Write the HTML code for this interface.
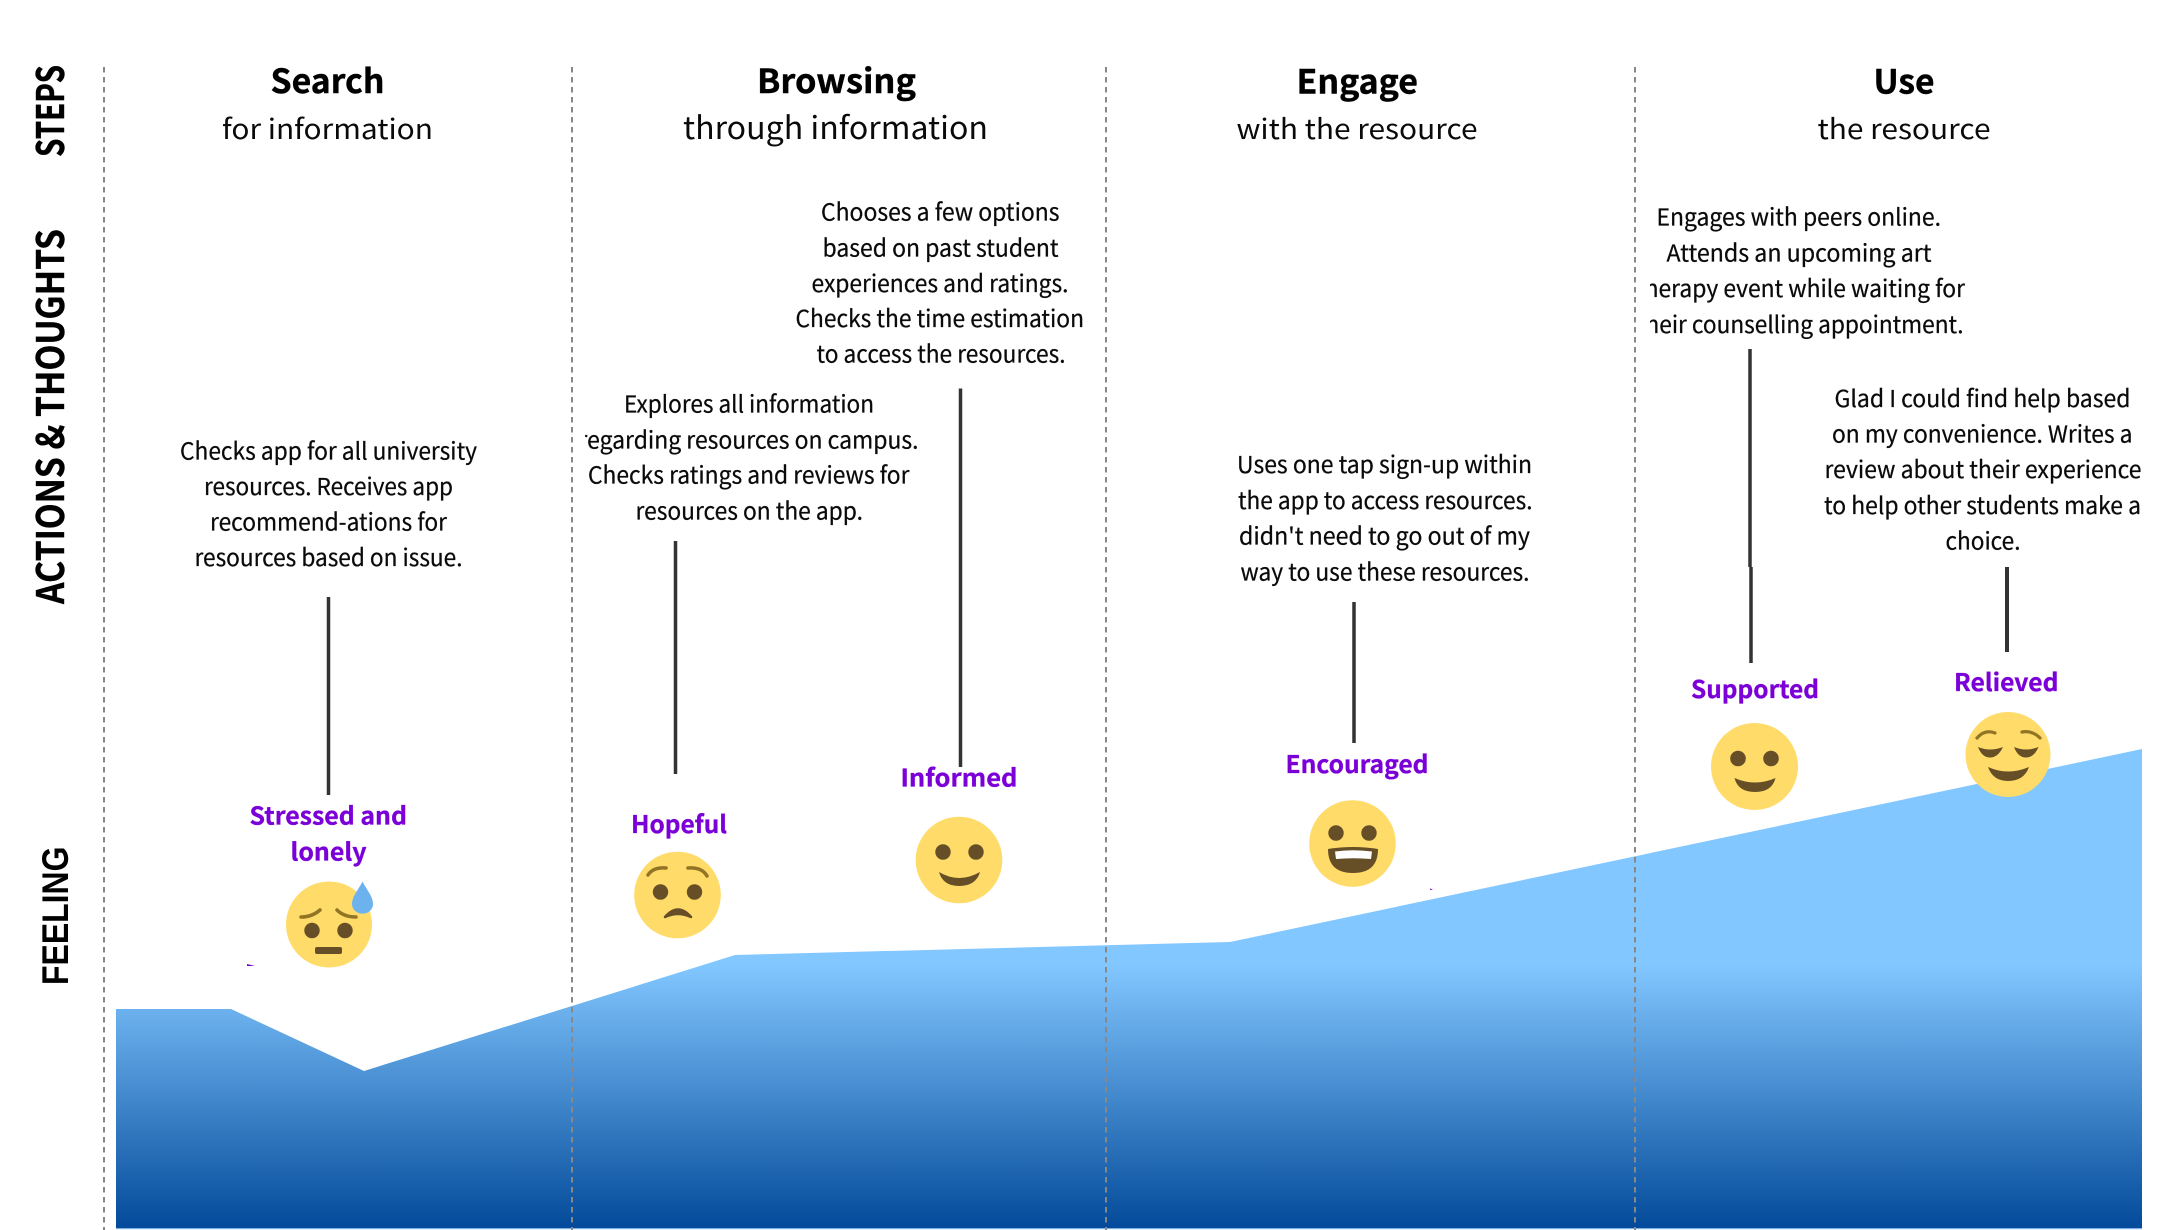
<!DOCTYPE html>
<html lang="en">
<head>
<meta charset="utf-8">
<title>Journey map</title>
<style>
html,body{margin:0;padding:0;background:#fff;width:2170px;height:1230px;overflow:hidden}
svg{display:block}
.b{font-family:"Noto Sans CJK JP","Liberation Sans",sans-serif;font-size:23.5px;fill:#0a0a0a;stroke:#0a0a0a;stroke-width:.25px}
.h{font-family:"Noto Sans CJK JP","Liberation Sans",sans-serif;font-weight:700;font-size:33px;fill:#000;stroke:#000;stroke-width:.4px}
.s{font-family:"Noto Sans CJK JP","Liberation Sans",sans-serif;font-size:28px;fill:#0a0a0a}
.p{font-family:"Noto Sans CJK JP","Liberation Sans",sans-serif;font-weight:700;font-size:24.5px;fill:#7b00d8;stroke:#7b00d8;stroke-width:.3px}
.v{font-family:"Noto Sans CJK JP","Liberation Sans",sans-serif;font-weight:700;font-size:38px;fill:#000;stroke:#000;stroke-width:.4px}
.f{font-family:"Liberation Sans",sans-serif;font-weight:700;font-size:37px;fill:#000}
</style>
</head>
<body>
<svg width="2170" height="1230" viewBox="0 0 2170 1230" xmlns="http://www.w3.org/2000/svg">
<defs>
<linearGradient id="g" gradientUnits="userSpaceOnUse" x1="0" y1="965" x2="0" y2="1228">
<stop offset="0" stop-color="#82c7ff"/>
<stop offset="1" stop-color="#034a9a"/>
</linearGradient>
<clipPath id="c1"><rect x="585" y="420" width="400" height="40"/></clipPath>
<clipPath id="c2"><rect x="1650" y="270" width="400" height="75"/></clipPath>
</defs>
<rect width="2170" height="1230" fill="#fff"/>

<!-- area -->
<rect x="116" y="1228" width="2026" height="1.2" fill="#7fb2e6"/>
<polygon points="116,1009 231,1009 364,1071 735,955 1230,942 2142,749 2142,1228 116,1228" fill="url(#g)"/>
<polygon points="247,964 255,966 247,966" fill="#7b00d8"/>
<polygon points="1430,888.5 1433,889.5 1430,890" fill="#7b00d8"/>

<!-- dashed separators -->
<g stroke="#888" stroke-width="2" stroke-dasharray="5.5 4.5" stroke-dashoffset="6" fill="none">
<line x1="104" y1="63" x2="104" y2="1230"/>
<line x1="572" y1="63" x2="572" y2="1230"/>
<line x1="1106" y1="63" x2="1106" y2="1230"/>
<line x1="1635" y1="63" x2="1635" y2="1230"/>
</g>

<!-- vertical labels -->
<text class="v" transform="translate(64,157) rotate(-90)" textLength="92" lengthAdjust="spacingAndGlyphs">STEPS</text>
<text class="v" transform="translate(64,604) rotate(-90)" textLength="375" lengthAdjust="spacingAndGlyphs">ACTIONS &amp; THOUGHTS</text>
<text class="f" transform="translate(68,985) rotate(-90)" textLength="138.5" lengthAdjust="spacingAndGlyphs">FEELING</text>

<!-- headers -->
<text class="h" x="270.5" y="93" textLength="114" lengthAdjust="spacingAndGlyphs">Search</text>
<text class="s" x="222" y="139" textLength="211" lengthAdjust="spacingAndGlyphs">for information</text>
<text class="h" x="757" y="93" textLength="159" lengthAdjust="spacingAndGlyphs">Browsing</text>
<text class="s" x="683" y="139" textLength="305" lengthAdjust="spacingAndGlyphs" style="font-size:31px">through information</text>
<text class="h" x="1296.5" y="93.5" textLength="121.5" lengthAdjust="spacingAndGlyphs">Engage</text>
<text class="s" x="1236.5" y="139" textLength="241" lengthAdjust="spacingAndGlyphs">with the resource</text>
<text class="h" x="1873.5" y="93.5" textLength="61" lengthAdjust="spacingAndGlyphs">Use</text>
<text class="s" x="1817.5" y="139" textLength="173" lengthAdjust="spacingAndGlyphs">the resource</text>

<!-- body -->
<g>
<text class="b" x="180" y="459.5" textLength="297" lengthAdjust="spacingAndGlyphs">Checks app for all university</text>
<text class="b" x="204" y="495" textLength="249" lengthAdjust="spacingAndGlyphs">resources. Receives app</text>
<text class="b" x="210" y="530.5" textLength="237" lengthAdjust="spacingAndGlyphs">recommend-ations for</text>
<text class="b" x="194.5" y="566" textLength="268" lengthAdjust="spacingAndGlyphs">resources based on issue.</text>

<text class="b" x="821" y="220.3" textLength="238.5" lengthAdjust="spacingAndGlyphs">Chooses a few options</text>
<text class="b" x="822.5" y="256.3" textLength="236" lengthAdjust="spacingAndGlyphs">based on past student</text>
<text class="b" x="811.5" y="291.8" textLength="257" lengthAdjust="spacingAndGlyphs">experiences and ratings.</text>
<text class="b" x="795.5" y="326.8" textLength="288.5" lengthAdjust="spacingAndGlyphs">Checks the time estimation</text>
<text class="b" x="816.5" y="362.3" textLength="249" lengthAdjust="spacingAndGlyphs">to access the resources.</text>

<text class="b" x="624" y="412.7" textLength="250" lengthAdjust="spacingAndGlyphs">Explores all information</text>
<g clip-path="url(#c1)"><text class="b" x="578.5" y="448.7" textLength="340" lengthAdjust="spacingAndGlyphs">regarding resources on campus.</text></g>
<text class="b" x="588" y="483.7" textLength="321.5" lengthAdjust="spacingAndGlyphs">Checks ratings and reviews for</text>
<text class="b" x="635.5" y="519.7" textLength="227.5" lengthAdjust="spacingAndGlyphs">resources on the app.</text>

<text class="b" x="1237" y="473" textLength="295" lengthAdjust="spacingAndGlyphs">Uses one tap sign-up within</text>
<text class="b" x="1238" y="509" textLength="294.5" lengthAdjust="spacingAndGlyphs">the app to access resources.</text>
<text class="b" x="1239" y="544.5" textLength="291" lengthAdjust="spacingAndGlyphs">didn't need to go out of my</text>
<text class="b" x="1240.5" y="580.3" textLength="289" lengthAdjust="spacingAndGlyphs">way to use these resources.</text>

<text class="b" x="1656.5" y="225.5" textLength="284.5" lengthAdjust="spacingAndGlyphs">Engages with peers online.</text>
<text class="b" x="1666.5" y="261.5" textLength="265" lengthAdjust="spacingAndGlyphs">Attends an upcoming art</text>
<g clip-path="url(#c2)">
<text class="b" x="1636" y="297" textLength="329" lengthAdjust="spacingAndGlyphs">therapy event while waiting for</text>
<text class="b" x="1637" y="333" textLength="326.5" lengthAdjust="spacingAndGlyphs">their counselling appointment.</text>
</g>

<text class="b" x="1834.5" y="407" textLength="296" lengthAdjust="spacingAndGlyphs">Glad I could find help based</text>
<text class="b" x="1832" y="442.5" textLength="300.5" lengthAdjust="spacingAndGlyphs">on my convenience. Writes a</text>
<text class="b" x="1824.5" y="478" textLength="317" lengthAdjust="spacingAndGlyphs">review about their experience</text>
<text class="b" x="1824" y="514" textLength="317" lengthAdjust="spacingAndGlyphs">to help other students make a</text>
<text class="b" x="1945.5" y="549.5" textLength="75" lengthAdjust="spacingAndGlyphs">choice.</text>
</g>

<!-- connectors -->
<g stroke="#333" stroke-width="3.5" fill="none">
<line x1="328.5" y1="597" x2="328.5" y2="795"/>
<line x1="675.5" y1="541" x2="675.5" y2="774"/>
<line x1="960.5" y1="388.5" x2="960.5" y2="767"/>
<line x1="1354" y1="602" x2="1354" y2="743"/>
<line x1="1750" y1="349" x2="1750" y2="567"/>
<line x1="1751" y1="567" x2="1751" y2="663"/>
<line x1="2007" y1="567" x2="2007" y2="652" stroke-width="4"/>
</g>

<!-- feelings -->
<text class="p" x="249.5" y="824.5" textLength="157.5" lengthAdjust="spacingAndGlyphs">Stressed and</text>
<text class="p" x="290.5" y="860.5" textLength="76" lengthAdjust="spacingAndGlyphs">lonely</text>
<text class="p" x="631" y="833" textLength="96" lengthAdjust="spacingAndGlyphs">Hopeful</text>
<text class="p" x="900.5" y="786.5" textLength="117" lengthAdjust="spacingAndGlyphs">Informed</text>
<text class="p" x="1285.5" y="773" textLength="143" lengthAdjust="spacingAndGlyphs">Encouraged</text>
<text class="p" x="1691" y="698" textLength="128" lengthAdjust="spacingAndGlyphs">Supported</text>
<text class="p" x="1954" y="691" textLength="104.5" lengthAdjust="spacingAndGlyphs">Relieved</text>

<!-- stressed -->
<circle cx="329" cy="924.5" r="43" fill="#ffdb69"/>
<path d="M301,917 Q312,917 320,910 M337,910 Q344,917 356,917" stroke="#917524" stroke-width="3.5" fill="none" stroke-linecap="round"/>
<ellipse cx="312" cy="930.5" rx="7.7" ry="7.7" fill="#664e27"/>
<ellipse cx="345" cy="930.5" rx="7.7" ry="7.7" fill="#664e27"/>
<rect x="315" y="947" width="27" height="7" rx="2" fill="#664e27"/>
<path d="M362.5,881.5 C366,889 373,896 373,904 A10.3,9.5 0 0 1 352,904 C352,896 359,889 362.5,881.5Z" fill="#6cb3ee"/>

<!-- hopeful -->
<circle cx="677.5" cy="895" r="43.3" fill="#ffdb69"/>
<path d="M648,875 Q653,867 666,868 M688,868 Q702,867 707,876" stroke="#917524" stroke-width="3.5" fill="none" stroke-linecap="round"/>
<ellipse cx="660.5" cy="892" rx="7.7" ry="7.7" fill="#664e27"/>
<ellipse cx="694.5" cy="892" rx="7.7" ry="7.7" fill="#664e27"/>
<path d="M665,917 Q678,902 691,917 Q678,911 665,917Z" fill="#664e27" stroke="#664e27" stroke-width="2.5" stroke-linejoin="round"/>

<!-- informed -->
<circle cx="959" cy="860" r="43.3" fill="#ffdb69"/>
<ellipse cx="943" cy="852" rx="7.7" ry="7.7" fill="#664e27"/>
<ellipse cx="976" cy="852" rx="7.7" ry="7.7" fill="#664e27"/>
<path d="M939,872 Q959,884 980,872 Q976,886 959,886 Q943,886 939,872Z" fill="#664e27"/>

<!-- encouraged -->
<circle cx="1352.5" cy="843.5" r="43.3" fill="#ffdb69"/>
<ellipse cx="1336" cy="833" rx="7.7" ry="7.7" fill="#664e27"/>
<ellipse cx="1369" cy="833" rx="7.7" ry="7.7" fill="#664e27"/>
<path d="M1328,849 Q1353,845 1378,849 Q1378,873 1353,873 Q1328,873 1328,849Z" fill="#664e27"/>
<path d="M1335,851.5 Q1353,849 1372,851.5 L1371,859 Q1353,857.5 1336,859Z" fill="#fff"/>

<!-- supported -->
<circle cx="1754.5" cy="766.5" r="43.5" fill="#ffdb69"/>
<circle cx="1738" cy="758.5" r="7.8" fill="#664e27"/>
<circle cx="1771" cy="758.5" r="7.8" fill="#664e27"/>
<path d="M1734.5,778 Q1755,787 1775.5,778 Q1772,792 1755,792 Q1738,792 1734.5,778Z" fill="#664e27"/>

<!-- relieved -->
<circle cx="2008" cy="754.5" r="42.5" fill="#ffdb69"/>
<path d="M1977,738 Q1985,729 1995,733 M2022,732 Q2032,730 2040,738" stroke="#917524" stroke-width="3.2" fill="none" stroke-linecap="round"/>
<path d="M1978,747 Q1990,752 2003,747 Q1998,757.5 1990,757.5 Q1982,757.5 1978,747Z" fill="#664e27"/>
<path d="M2014,747 Q2026,752 2038.5,747 Q2034,757.5 2026,757.5 Q2018,757.5 2014,747Z" fill="#664e27"/>
<path d="M1988,767 Q2008,776 2029,767 Q2024,781 2008,781 Q1993,781 1988,767Z" fill="#664e27"/>
</svg>
</body>
</html>
